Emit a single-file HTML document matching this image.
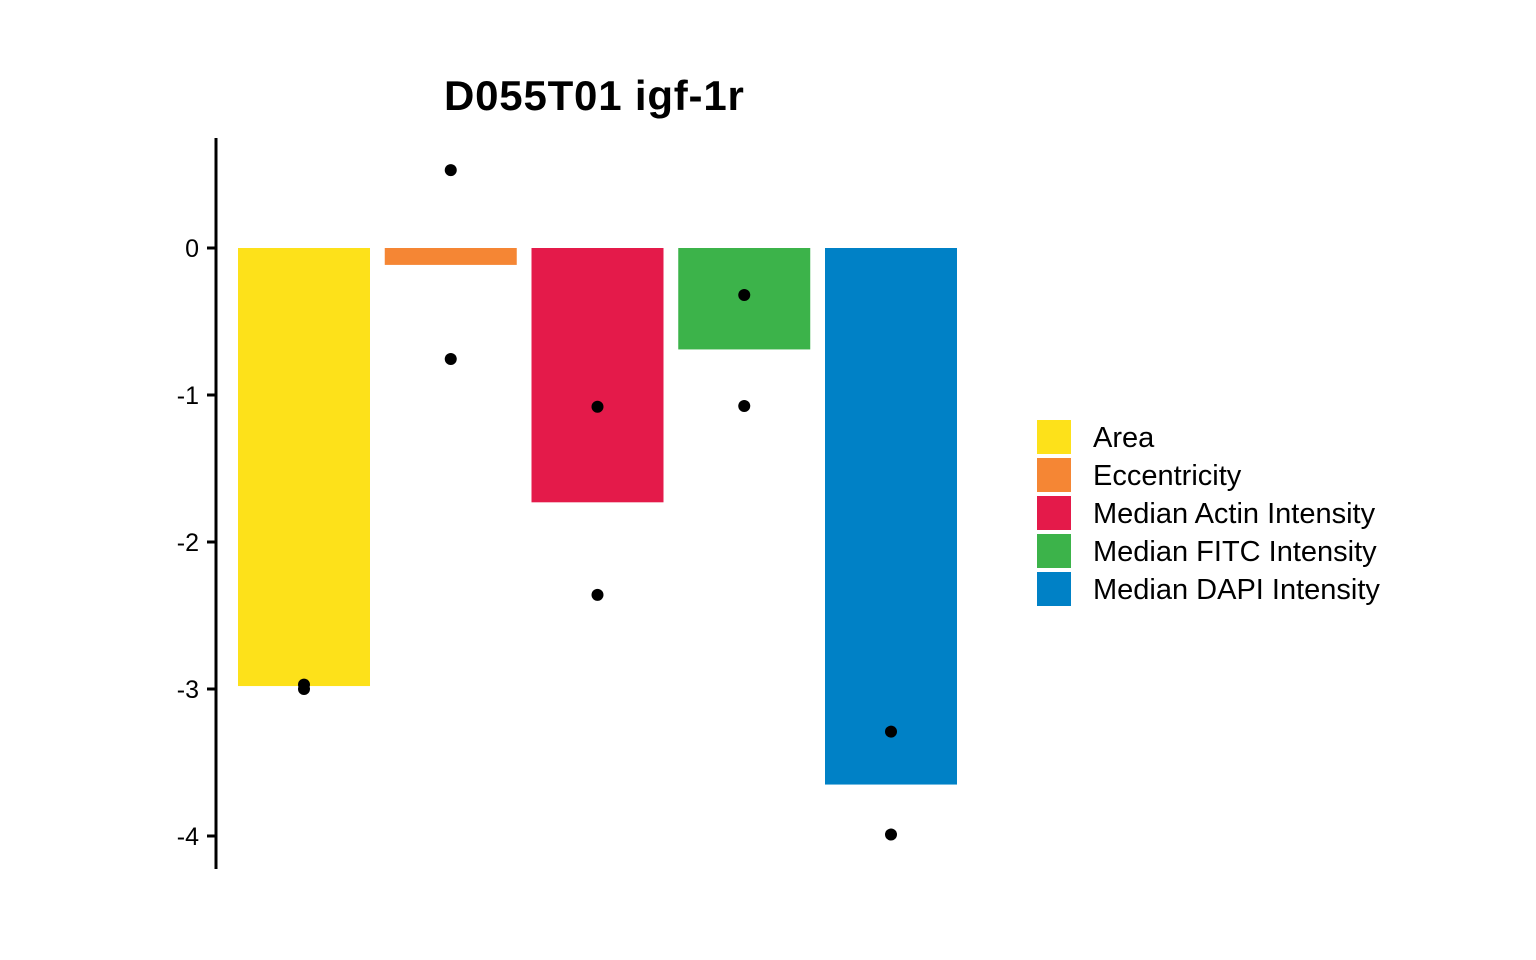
<!DOCTYPE html>
<html><head><meta charset="utf-8"><style>
body{margin:0;background:#fff;}
svg{display:block;font-family:"Liberation Sans",sans-serif;}
</style></head><body>
<svg id="chart" width="1536" height="960">
<text x="444" y="110" font-size="42" font-weight="bold" letter-spacing="0.8">D055T01 igf-1r</text>
<line x1="216" y1="138" x2="216" y2="869" stroke="#000" stroke-width="3"/>
<g id="ticks"></g><g id="bars"></g><g id="points"></g><g id="legend"></g>
</svg>
<script>
const categories=["Area","Eccentricity","Median Actin Intensity","Median FITC Intensity","Median DAPI Intensity"];
const colors=["#FDE11A","#F58634","#E41A4A","#3CB34A","#0081C6"];
const barValues=[-2.98,-0.115,-1.73,-0.69,-3.65];
const pointsA=[-2.97,0.53,-1.08,-0.32,-3.29];
const pointsB=[-3.0,-0.755,-2.36,-1.075,-3.99];
const tickValues=[0,-1,-2,-3,-4];
const tickLabels=["0","-1","-2","-3","-4"];
const NS="http://www.w3.org/2000/svg";
function y(v){return 248-147*v;}
function xc(i){return 304+146.75*i;}
const bw=132;
function mk(t,a,p){const e=document.createElementNS(NS,t);for(const k in a)e.setAttribute(k,a[k]);document.getElementById(p).appendChild(e);return e;}
tickValues.forEach((v,i)=>{
 const l=mk("line",{x1:207,x2:216,y1:y(v),y2:y(v),stroke:"#000","stroke-width":3},"ticks");
 
 
 const t=mk("text",{x:199,y:y(v)+9,"font-size":25,"text-anchor":"end"},"ticks");
 t.textContent=tickLabels[i];
 
 
});
categories.forEach((c,i)=>{
 const v=barValues[i];
 const r=mk("rect",{x:xc(i)-bw/2,width:bw,y:Math.min(y(0),y(v)),height:Math.abs(y(v)-y(0)),fill:colors[i]},"bars");
 
 
 [pointsA[i],pointsB[i]].forEach(p=>{
  const d=mk("circle",{cx:xc(i),cy:y(p),r:6,fill:"#000"},"points");
  
  
 });
 const ly=420+38*i;
 const k=mk("rect",{x:1037,y:ly,width:34,height:34,fill:colors[i]},"legend");
 
 
 const t=mk("text",{x:1093,y:ly+27,"font-size":29},"legend");
 t.textContent=c;
 
 
});
</script>
</body></html>
